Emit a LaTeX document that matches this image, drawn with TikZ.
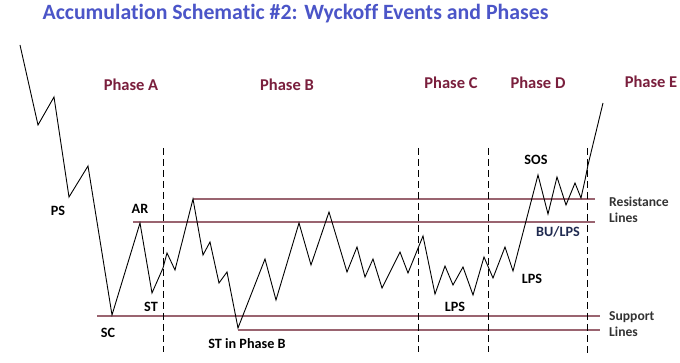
\documentclass[tikz,border=0pt]{standalone}
\usepackage{fontspec}
\setmainfont[Ligatures=NoCommon]{Carlito}
\definecolor{titleblue}{HTML}{4B55C8}
\definecolor{phasered}{HTML}{7A1F3D}
\definecolor{levelline}{HTML}{9A6470}
\definecolor{bunavy}{HTML}{1F2A50}
\definecolor{sidegray}{HTML}{333333}
\begin{document}
\begin{tikzpicture}[x=1pt,y=-1pt,
  phase/.style={font=\fontsize{16.5}{18}\selectfont\bfseries, text=phasered, inner sep=0pt},
  event/.style={font=\fontsize{14.2}{16}\selectfont\bfseries, text=black, inner sep=0pt},
  side/.style={font=\fontsize{13.6}{16}\selectfont\bfseries, text=sidegray, inner sep=0pt, anchor=west, align=left},
  level/.style={levelline, line width=1.1pt},
  divider/.style={black, dash pattern=on 7pt off 4pt, line width=0.8pt},
  price/.style={black, line width=0.9pt, line join=miter}]
\useasboundingbox (0,0) rectangle (680,363);
\fill[white] (0,0) rectangle (680,363);

\node[font=\fontsize{21.8}{24}\selectfont\bfseries, text=titleblue, inner sep=0pt] (title) at (295.5,14) {Accumulation Schematic \#2: Wyckoff Events and Phases};

% coordinates for levels
\coordinate (r1a) at (193,199); \coordinate (r1b) at (595,199);
\coordinate (r2a) at (133,222); \coordinate (r2b) at (595,222);
\coordinate (s1a) at (97,316);  \coordinate (s1b) at (600,316);
\coordinate (s2a) at (238,330); \coordinate (s2b) at (600,330);
\draw[level] (r1a) -- (r1b);
\draw[level] (r2a) -- (r2b);
\draw[level] (s1a) -- (s1b);
\draw[level] (s2a) -- (s2b);

% dividers
\coordinate (d1t) at (163,148); \coordinate (d1b) at (163,352);
\coordinate (d2t) at (418,148); \coordinate (d2b) at (418,352);
\coordinate (d3t) at (488,148); \coordinate (d3b) at (488,352);
\coordinate (d4t) at (587,148); \coordinate (d4b) at (587,353);
\draw[divider] (d1t) -- (d1b);
\draw[divider] (d2t) -- (d2b);
\draw[divider] (d3t) -- (d3b);
\draw[divider] (d4t) -- (d4b);

% price path
\draw[price] (20,45) -- (38,125) -- (54,97) -- (69,197) -- (88,166) -- (112,315)
 -- (140,223) -- (152,293) -- (163,268) -- (167,253) -- (175,270) -- (193,199)
 -- (203,255) -- (210,242) -- (219,283) -- (227,272) -- (238,328) -- (265,259)
 -- (276,300) -- (299,223) -- (311,265) -- (329,212) -- (347,272) -- (357,247)
 -- (365,277) -- (373,259) -- (382,288) -- (400,252) -- (408,273) -- (423,236)
 -- (435,294) -- (445,266) -- (453,285) -- (463,267) -- (473,295) -- (484,257)
 -- (493,278) -- (505,247) -- (513,271) -- (538,175) -- (548,214) -- (557,177)
 -- (566,205) -- (575,183) -- (581,198) -- (585,180) -- (588,165) -- (603,103);

% phase labels
\node[phase] (pa) at (131,85) {Phase A};
\node[phase] (pb) at (287,85) {Phase B};
\node[phase] (pc) at (451,83) {Phase C};
\node[phase] (pd) at (538,83) {Phase D};
\node[phase] (pe) at (651,82) {Phase E};

% events
\node[event] (ps) at (58,211) {PS};
\node[event] (ar) at (140,209) {AR};
\node[event] (st) at (151,307) {ST};
\node[event] (sc) at (108,333) {SC};
\node[event] (stb) at (247,344) {ST in Phase B};
\node[event] (lpsc) at (455,307) {LPS};
\node[event] (lpsd) at (532,279) {LPS};
\node[event, text=bunavy] (bu) at (558,232) {BU/LPS};
\node[event] (sos) at (536,160) {SOS};

% side labels
\node[side] (res) at (609,210) {Resistance\\Lines};
\node[side] (sup) at (609,324) {Support\\Lines};
\end{tikzpicture}
\end{document}
